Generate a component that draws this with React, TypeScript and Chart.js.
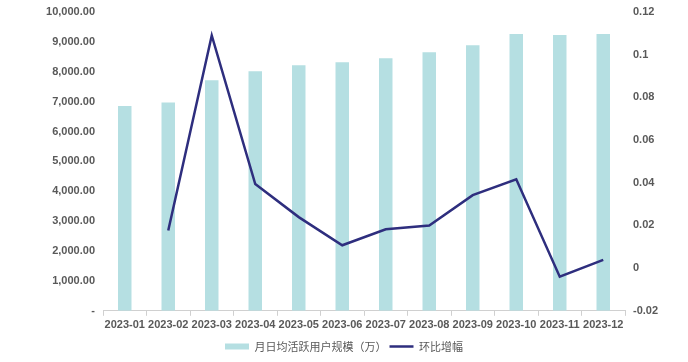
import React, { useEffect, useRef } from "react";
import { Chart, registerables } from "chart.js";

Chart.register(...registerables);

const categories = [
  "2023-01", "2023-02", "2023-03", "2023-04", "2023-05", "2023-06",
  "2023-07", "2023-08", "2023-09", "2023-10", "2023-11", "2023-12",
];
const dauValues = [6850, 6970, 7720, 8020, 8220, 8320, 8450, 8650, 8890, 9260, 9230, 9260];
const momGrowth: (number | null)[] = [null, 0.0176, 0.109, 0.0394, 0.0239, 0.0107, 0.0182, 0.02, 0.0342, 0.0416, -0.004, 0.0039];
const barLabel = "月日均活跃用户规模（万）";
const lineLabel = "环比增幅";

const textColor = "#595959";
const barColor = "#b5dfe2";
const lineColor = "#2e2e7e";
const tickFont = { family: "'Liberation Sans', Arial, sans-serif", size: 11, weight: "bold" as const };

export default function App() {
  const ref = useRef<HTMLCanvasElement | null>(null);
  useEffect(() => {
    document.body.style.margin = "0";
    if (!ref.current) return;
    const chart = new Chart(ref.current, {
      type: "bar",
      data: {
        labels: categories,
        datasets: [
          {
            type: "bar",
            label: barLabel,
            data: dauValues,
            backgroundColor: barColor,
            borderWidth: 0,
            yAxisID: "y",
            order: 1,
            categoryPercentage: 1,
            barPercentage: 0.31,
            pointStyle: "rect",
          } as any,
          {
            type: "line",
            label: lineLabel,
            data: momGrowth,
            borderColor: lineColor,
            backgroundColor: lineColor,
            borderWidth: 2.5,
            pointRadius: 0,
            tension: 0,
            yAxisID: "y1",
            order: 0,
            pointStyle: "line",
          } as any,
        ],
      },
      options: {
        responsive: true,
        maintainAspectRatio: false,
        animation: false,
        layout: { padding: { top: 12, bottom: 0, left: 0, right: 0 } },
        plugins: {
          tooltip: { enabled: false },
          legend: {
            position: "bottom",
            labels: {
              usePointStyle: true,
              pointStyleWidth: 24,
              boxHeight: 6,
              padding: 3,
              color: textColor,
              font: { family: "'Noto Sans CJK SC', sans-serif", size: 11 },
              sort: (a: any, b: any) => a.datasetIndex - b.datasetIndex,
            },
          },
        },
        scales: {
          x: {
            offset: true,
            grid: { display: true, drawOnChartArea: false, drawTicks: true, tickLength: 5, color: "#d0d0d0", offset: true },
            border: { display: true, color: "#d0d0d0" },
            ticks: { color: textColor, font: tickFont, maxRotation: 0, autoSkip: false, padding: 3 },
            afterFit: (s: any) => { s.height = s.height + 3; },
          },
          y: {
            position: "left",
            min: 0,
            max: 10000,
            grid: { display: false },
            border: { display: false },
            ticks: {
              stepSize: 1000,
              color: textColor,
              font: tickFont,
              padding: 0,
              callback: (v: any) => (Number(v) === 0 ? "-" : Number(v).toLocaleString("en-US", { minimumFractionDigits: 2, maximumFractionDigits: 2 })),
            },
            afterFit: (s: any) => { s.width = 103; },
          },
          y1: {
            position: "right",
            min: -0.02,
            max: 0.12,
            grid: { display: false },
            border: { display: false },
            ticks: {
              stepSize: 0.02,
              color: textColor,
              font: tickFont,
              padding: 0,
              callback: (v: any) => String(parseFloat(Number(v).toFixed(2))),
            },
            afterFit: (s: any) => { s.width = 63; },
          },
        },
      },
    });
    return () => chart.destroy();
  }, []);
  return (
    <div style={{ width: 688, height: 362, position: "relative" }}>
      <canvas ref={ref} />
    </div>
  );
}
